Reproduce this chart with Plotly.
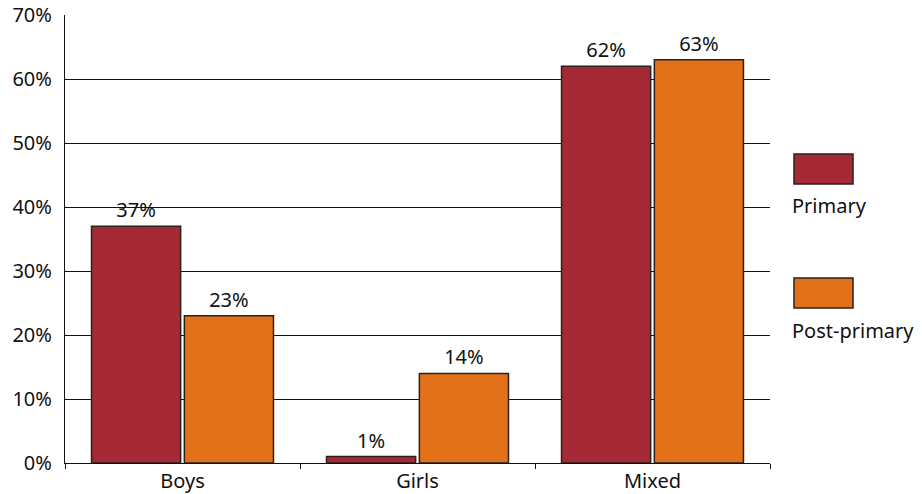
import plotly.graph_objects as go

categories = ["Boys", "Girls", "Mixed"]
primary = [37, 1, 62]
post_primary = [23, 14, 63]
series_names = ["Primary", "Post-primary"]
colors = ["#A52A35", "#E37119"]
y_ticks = [0, 10, 20, 30, 40, 50, 60, 70]

FONT = "Noto Sans"
FS = 20
fig = go.Figure()
for name, vals, col in zip(series_names, [primary, post_primary], colors):
    fig.add_trace(go.Bar(
        x=categories, y=vals, name=name,
        marker=dict(color=col, line=dict(color="#2b2118", width=1.5)),
        text=[f"{v}%" for v in vals], textposition="outside",
        textfont=dict(family=FONT, size=FS, color="#111"),
        cliponaxis=False, showlegend=False,
    ))

fig.update_layout(
    width=922, height=494,
    margin=dict(l=65, r=152, t=15, b=31, autoexpand=False),
    plot_bgcolor="white", paper_bgcolor="white",
    barmode="group", bargap=0.21, bargroupgap=0.04,
    font=dict(family=FONT, size=FS, color="#111"),
    showlegend=False,
    uniformtext=dict(minsize=FS, mode="show"),
)
fig.update_yaxes(
    range=[0, 70], tickvals=y_ticks, ticktext=[f"{v}%" for v in y_ticks],
    showgrid=True, gridcolor="#111", gridwidth=1,
    showline=True, linecolor="#111", linewidth=1.2,
    ticks="", ticklabelstandoff=8, zeroline=False, automargin=False,
    tickfont=dict(family=FONT, size=FS),
)
fig.update_xaxes(
    showline=True, linecolor="#111", linewidth=1.2,
    ticks="outside", tickson="boundaries", ticklen=5, tickcolor="#111",
    automargin=False, ticklabelstandoff=0,
    tickfont=dict(family=FONT, size=FS),
)

# custom legend on the right
legend_y = [(154, 184, 205), (278, 308, 330)]
for (y0, y1, yt), name, col in zip(legend_y, series_names, colors):
    fig.add_shape(type="rect", xref="paper", yref="paper",
                  x0=(794 - 65) / 705, x1=(853 - 65) / 705,
                  y0=(463 - y1) / 448, y1=(463 - y0) / 448,
                  fillcolor=col, line=dict(color="#2b2118", width=1.5))
    fig.add_annotation(xref="paper", yref="paper",
                       x=(790 - 65) / 705, y=(463 - yt) / 448,
                       text=name, showarrow=False, xanchor="left", yanchor="middle",
                       font=dict(family=FONT, size=FS, color="#111"))

fig.write_html("out.html", config={"displayModeBar": False},
               post_script="document.body.style.margin='0';document.body.style.overflow='hidden';")
